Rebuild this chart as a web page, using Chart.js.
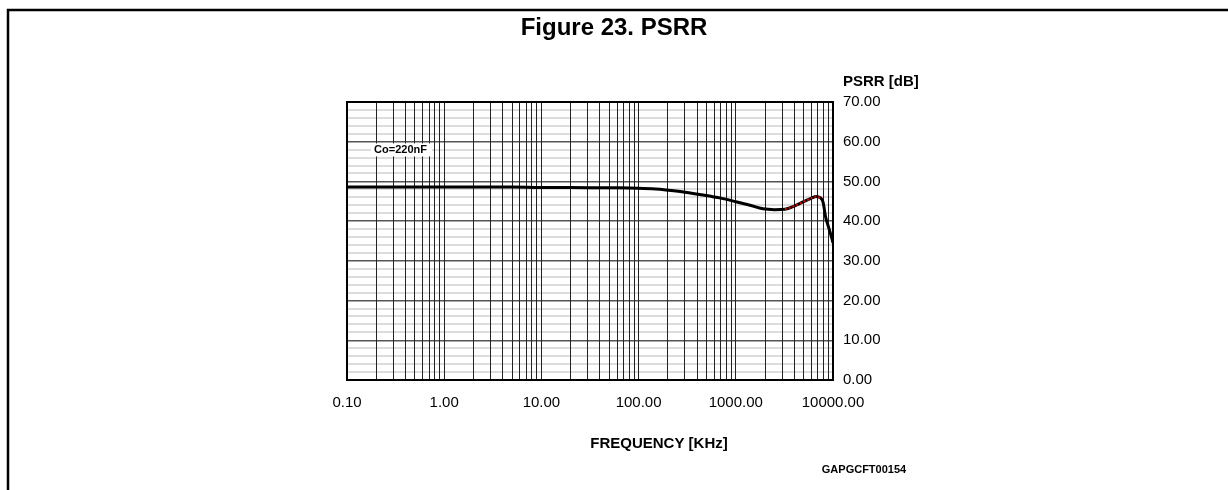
<!DOCTYPE html>
<html>
<head>
<meta charset="utf-8">
<script src="https://cdn.jsdelivr.net/npm/chart.js@4.4.0/dist/chart.umd.min.js"></script>
<style>
html,body{margin:0;padding:0;background:#fff;}
#wrap{position:relative;width:1228px;height:490px;}
canvas{display:block;}
</style>
</head>
<body>
<div id="wrap"><canvas id="c" width="1228" height="490"></canvas></div>
<script>
// ---- data ----
const freqKHz = [0.1, 0.2, 0.5, 1, 2, 5, 10, 20, 50, 100, 150, 200, 300, 460, 700, 1000, 1400, 1900, 2500, 3200, 4000, 5000, 6000, 6700, 7400, 7900, 8400, 9000, 9700, 10000];
const psrrDb  = [48.6, 48.6, 48.6, 48.6, 48.6, 48.6, 48.5, 48.5, 48.4, 48.3, 48.1, 47.8, 47.3, 46.6, 45.8, 44.9, 44.0, 43.1, 42.9, 43.0, 43.8, 44.9, 45.8, 46.2, 45.9, 44.8, 41.0, 38.5, 35.8, 34.5];
const redFreqKHz = [3200, 4000, 5000, 6000, 6700, 7400];
const redPsrrDb  = [43.0, 43.8, 44.9, 45.8, 46.2, 45.9];
const xTickValues = [0.1, 1, 10, 100, 1000, 10000];
const xTickLabels = ['0.10', '1.00', '10.00', '100.00', '1000.00', '10000.00'];
const yTickValues = [0, 10, 20, 30, 40, 50, 60, 70];
const yTickLabels = ['0.00', '10.00', '20.00', '30.00', '40.00', '50.00', '60.00', '70.00'];
const titleText = 'Figure 23. PSRR';
const yTitle = 'PSRR [dB]';
const xTitle = 'FREQUENCY [KHz]';
const codeText = 'GAPGCFT00154';
const noteText = 'Co=220nF';

const FONT = '"Liberation Sans", Arial, Helvetica, sans-serif';

// grid positions for the log axis: 1..9 x each decade
const xGrid = [];
for (let d = 0; d < xTickValues.length; d++) {
  const base = xTickValues[d];
  if (d === xTickValues.length - 1) { xGrid.push(base); break; }
  for (let m = 1; m <= 9; m++) xGrid.push(+(base * m).toPrecision(6));
}

const decor = {
  id: 'decor',
  beforeDraw(chart) {
    const ctx = chart.ctx;
    ctx.save();
    ctx.fillStyle = '#fff';
    ctx.fillRect(0, 0, chart.width, chart.height);
    ctx.restore();
  },
  beforeDatasetsDraw(chart) {
    const ctx = chart.ctx;
    const xs = chart.scales.x, ys = chart.scales.y;
    // note label with white box
    ctx.save();
    ctx.font = 'bold 11px ' + FONT;
    const px = xs.getPixelForValue(0.19), py = ys.getPixelForValue(57.8);
    const w = ctx.measureText(noteText).width;
    ctx.fillStyle = '#fff';
    ctx.fillRect(px - 3, py - 7, w + 8, 13);
    ctx.fillStyle = '#000';
    ctx.textBaseline = 'middle';
    ctx.textAlign = 'left';
    ctx.fillText(noteText, px, py);
    ctx.restore();
  },
  afterDraw(chart) {
    const ctx = chart.ctx;
    const a = chart.chartArea;
    ctx.save();
    // page frame
    ctx.strokeStyle = '#000';
    ctx.lineWidth = 2.5;
    ctx.beginPath();
    ctx.moveTo(8, 490);
    ctx.lineTo(8, 10);
    ctx.lineTo(1228, 10);
    ctx.stroke();
    // plot border
    ctx.lineWidth = 2;
    ctx.strokeRect(a.left, a.top, a.right - a.left, a.bottom - a.top);
    // texts
    ctx.fillStyle = '#000';
    ctx.textBaseline = 'middle';
    ctx.textAlign = 'center';
    ctx.font = 'bold 24px ' + FONT;
    ctx.fillText(titleText, 614, 28);
    ctx.textAlign = 'left';
    ctx.font = 'bold 15px ' + FONT;
    ctx.fillText(yTitle, a.right + 10, 82);
    ctx.textAlign = 'center';
    ctx.fillText(xTitle, 659, 444);
    ctx.font = 'bold 11px ' + FONT;
    ctx.fillText(codeText, 864, 470);
    ctx.restore();
  }
};

new Chart(document.getElementById('c'), {
  type: 'line',
  data: {
    datasets: [
      {
        label: 'PSRR',
        data: freqKHz.map((f, i) => ({x: f, y: psrrDb[i]})),
        borderColor: '#000',
        borderWidth: 3,
        pointRadius: 0,
        cubicInterpolationMode: 'monotone',
        order: 2
      },
      {
        label: 'PSRR red',
        data: redFreqKHz.map((f, i) => ({x: f, y: redPsrrDb[i]})),
        borderColor: '#d40000',
        borderWidth: 2,
        borderDash: [2, 2],
        pointRadius: 0,
        cubicInterpolationMode: 'monotone',
        order: 1
      }
    ]
  },
  options: {
    responsive: false,
    animation: false,
    devicePixelRatio: 1,
    layout: { padding: { left: 347, top: 102, right: 335, bottom: 70 } },
    plugins: { legend: { display: false }, title: { display: false }, tooltip: { enabled: false } },
    scales: {
      x: {
        type: 'logarithmic',
        min: 0.1,
        max: 10000,
        afterBuildTicks(scale) { scale.ticks = xGrid.map(v => ({value: v})); },
        afterFit(scale) { scale.height = 40; },
        ticks: {
          autoSkip: false,
          maxRotation: 0,
          padding: 14,
          color: '#000',
          font: { family: FONT, size: 15 },
          callback(value) {
            const i = xTickValues.findIndex(t => Math.abs(t - value) / t < 1e-6);
            return i >= 0 ? xTickLabels[i] : '';
          }
        },
        grid: { color: '#222', lineWidth: 1, drawTicks: false, z: -1 },
        border: { display: false }
      },
      y: {
        position: 'right',
        min: 0,
        max: 70,
        afterFit(scale) { scale.width = 60; },
        ticks: {
          stepSize: 2,
          autoSkip: false,
          padding: 10,
          color: '#000',
          font: { family: FONT, size: 15 },
          callback(value) {
            const i = yTickValues.indexOf(value);
            return i >= 0 ? yTickLabels[i] : '';
          }
        },
        grid: {
          z: -2,
          drawTicks: false,
          color: ctx => (ctx.tick && ctx.tick.value % 10 === 0) ? '#555' : '#dcdcdc',
          lineWidth: ctx => (ctx.tick && ctx.tick.value % 10 === 0) ? 1.5 : 2
        },
        border: { display: false }
      }
    }
  },
  plugins: [decor]
});
</script>
</body>
</html>
